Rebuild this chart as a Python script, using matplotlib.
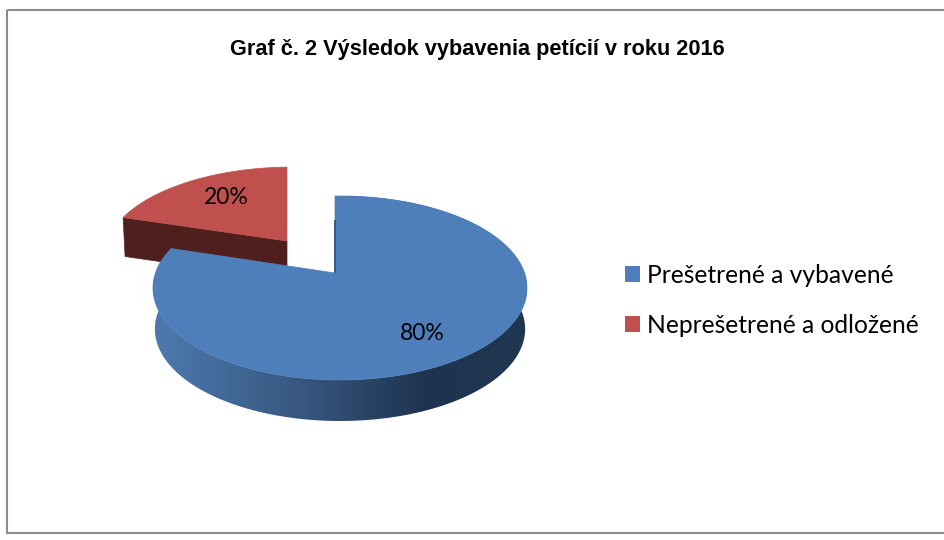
import numpy as np
import matplotlib
matplotlib.use('Agg')
import matplotlib.pyplot as plt
from matplotlib.patches import Polygon, Patch, Rectangle

# Data
labels = ['Prešetrené a vybavené', 'Neprešetrené a odložené']
shares = [80, 20]
share_labels = ['80%', '20%']
colors = ['#4e7fbb', '#c0504d']
title = 'Graf č. 2 Výsledok vybavenia petícií v roku 2016'

# Pie geometry in image pixels
cx, cy, rx, ry = 340, 288, 187, 92   # ellipse of the big slice
apex = np.array([335.0, 273.0])      # where the slices meet
k = 0.46                             # vertical squash of the directions
depth = 41
red_shift = np.array([-48.0, -32.0])
red_scale = np.array([1.0, 0.96])


def rim(theta):
    # ray from the apex, hits the ellipse
    dx, dy = np.sin(theta), -k * np.cos(theta)
    px, py = (apex[0] - cx) / rx, (apex[1] - cy) / ry
    qx, qy = dx / rx, dy / ry
    a = qx**2 + qy**2
    b = 2 * (px * qx + py * qy)
    c = px**2 + py**2 - 1
    t = (-b + np.sqrt(b**2 - 4 * a * c)) / (2 * a)
    return np.column_stack([apex[0] + t * dx, apex[1] + t * dy])


fig = plt.figure(figsize=(9.44, 5.4), dpi=100)
ax = fig.add_axes([0, 0, 1, 1])
ax.set_xlim(0, 944)
ax.set_ylim(540, 0)
ax.axis('off')

# Outer frame, right side runs off the picture
ax.add_patch(Rectangle((6.5, 9.5), 945, 523.5, fill=False, ec='#8c8c8c', lw=1.5))

edges = np.radians(np.cumsum([0] + shares) * 3.6)

# Small slice, pulled out (drawn first, big slice covers its wall)
t = np.linspace(edges[1], edges[2], 80)
top = (rim(t) - apex) * red_scale + apex + red_shift
tip = apex + red_shift
low = np.vstack([top, tip[None]]) + [0, depth - 2]
low[0, 0] += 2
ax.add_patch(Polygon(np.vstack([top[:1], tip[None], low[-1:], low[:1]]), fc='#4f1f1e', ec='#4f1f1e', lw=0.5))
ax.add_patch(Polygon(np.vstack([top, tip[None]]), fc=colors[1], ec=colors[1], lw=0.5))
ax.text(*(tip + [-61, -44]), share_labels[1], fontsize=16.5, family='Lato', ha='center', va='center', color='black')

# Big slice, wall with left to right shading
t = np.linspace(edges[0], edges[1], 300)
top = rim(t)
lower = top[::-1] + [0, depth]
lower[:, 0] = cx + (lower[:, 0] - cx) * 0.99
wall = Polygon(np.vstack([top, lower]), fc='none', ec='none', transform=ax.transData)
ax.add_patch(wall)
grad = matplotlib.colors.LinearSegmentedColormap.from_list(
    'wall', [(0, '#4d7aaf'), (0.4, '#37577f'), (0.73, '#1e3350'), (1, '#203751')])
im = ax.imshow(np.linspace(0, 1, 256)[None, :], cmap=grad, aspect='auto',
               extent=[cx - rx, cx + rx, cy + ry + depth, cy - ry])
im.set_clip_path(wall)
ax.set_xlim(0, 944)
ax.set_ylim(540, 0)

# Slit seen at the cut
start = rim(np.array([0.0]))[0]
ax.plot([apex[0], apex[0]], [start[1] + 24, apex[1]], color='#2f4d74', lw=1.2, solid_capstyle='butt')

ax.add_patch(Polygon(np.vstack([top, apex[None]]), fc=colors[0], ec=colors[0], lw=0.5))
ax.text(422, 333, share_labels[0], fontsize=16.5, family='Lato', ha='center', va='center', color='black')

# Title and legend
ax.text(477, 49, title, fontsize=15.7, family='Liberation Sans', weight='bold', ha='center', va='center',
        color='black')
handles = [Patch(fc=c, ec='none') for c in colors]
ax.legend(handles, labels, loc='center left', bbox_to_anchor=(0.662, 0.444), frameon=False,
          prop={'family': 'Lato', 'size': 17.7}, handlelength=0.61, handleheight=0.61, handletextpad=0.28,
          labelspacing=1.08, borderpad=0, borderaxespad=0)

fig.savefig('out.png', dpi=100)
